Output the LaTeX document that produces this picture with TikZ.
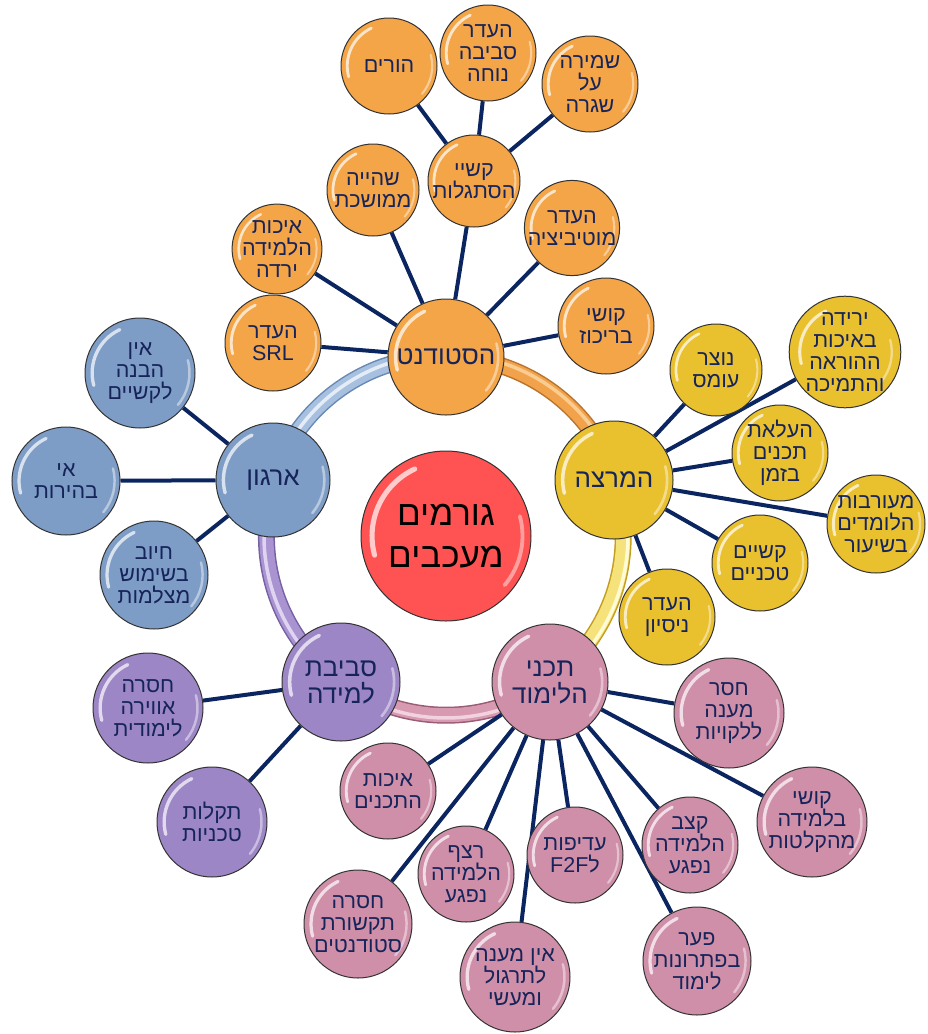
\documentclass[tikz,border=0pt]{standalone}
\usepackage{fontspec}
\setmainfont{Liberation Sans}[Script=Hebrew]
\TeXXeTstate=1
\newcommand\hb[1]{\beginR #1\endR}
\usetikzlibrary{calc}
\definecolor{cOr}{HTML}{F3A548}
\definecolor{cYe}{HTML}{E9C02E}
\definecolor{cBl}{HTML}{7E9DC6}
\definecolor{cPu}{HTML}{9C86C6}
\definecolor{cPk}{HTML}{D08FA8}
\definecolor{cRd}{HTML}{FF5252}
\definecolor{navy}{HTML}{16245A}
\definecolor{lnc}{HTML}{0B2560}
\definecolor{eOr}{HTML}{B8742C}
\definecolor{mOr}{HTML}{F2A24A}
\definecolor{hOr}{HTML}{F9CD92}
\definecolor{eYe}{HTML}{C49D1E}
\definecolor{mYe}{HTML}{F6E27A}
\definecolor{hYe}{HTML}{FFFBD6}
\definecolor{ePk}{HTML}{9A5C75}
\definecolor{mPk}{HTML}{D89AB1}
\definecolor{hPk}{HTML}{F2D2DE}
\definecolor{ePu}{HTML}{7561A3}
\definecolor{mPu}{HTML}{A994D1}
\definecolor{hPu}{HTML}{DED3F0}
\definecolor{eBl}{HTML}{6889B5}
\definecolor{mBl}{HTML}{A8C0DF}
\definecolor{hBl}{HTML}{E3ECF7}
\pgfdeclarelayer{bg}
\pgfsetlayers{bg,main}
\tikzset{
  bub/.style 2 args={circle, draw=black!80, line width=1pt, fill=#1,
    minimum size={2*#2pt}, inner sep=0pt, align=center, text=navy,
    font=\fontsize{21.5}{22}\selectfont,
    path picture={
      \draw[white, opacity=0.7, line width={0.06*#2pt}, line cap=round]
        ($(path picture bounding box.center)+(115:{0.87*#2pt})$)
        arc[start angle=115, end angle=195, radius={0.87*#2pt}];
      \draw[white, opacity=0.45, line width={0.045*#2pt}, line cap=round]
        ($(path picture bounding box.center)+(-40:{0.9*#2pt})$)
        arc[start angle=-40, end angle=15, radius={0.9*#2pt}];
    }},
  hubf/.style={font=\fontsize{26}{27}\selectfont},
  cenf/.style={font=\fontsize{35}{42}\selectfont, text=black},
  conn/.style={draw=lnc, line width=4pt},
}
\newcommand\ringarc[6]{%
  \draw[#4, line width=17pt] (#1.center) arc[start angle=#2, end angle=#3, radius=179];
  \draw[#5, line width=14pt] (#1.center) arc[start angle=#2, end angle=#3, radius=179];
  \draw[#6, line width=3.5pt] ($(cen.center)+(#2:182)$) arc[start angle=#2, end angle=#3, radius=182];
}
\begin{document}
\begin{tikzpicture}[x=1pt, y=1pt]
\useasboundingbox (0,0) rectangle (927,-1034);
% centre
\node[bub={cRd}{85}, cenf] (cen) at (446,-536) {\hb{גורמים}\\\hb{מעכבים}};
% student
\node[bub={cOr}{58}, hubf] (stud) at (446,-357) {\hb{הסטודנט}};
\node[bub={cOr}{48}] (srl) at (273,-343) {\hb{העדר}\\SRL};
\node[bub={cOr}{44}] (qual) at (277,-249) {\hb{איכות}\\\hb{הלמידה}\\\hb{ירדה}};
\node[bub={cOr}{46}] (stay) at (373,-190) {\hb{שהייה}\\\hb{ממושכת}};
\node[bub={cOr}{46}] (adapt) at (474,-181) {\hb{קשיי}\\\hb{הסתגלות}};
\node[bub={cOr}{47}] (motiv) at (572,-228) {\hb{העדר}\\\hb{מוטיביציה}};
\node[bub={cOr}{48}] (focus) at (606,-326) {\hb{קושי}\\\hb{בריכוז}};
\node[bub={cOr}{48}] (parents) at (389,-66) {\hb{הורים}};
\node[bub={cOr}{48}] (comfort) at (488,-53) {\hb{העדר}\\\hb{סביבה}\\\hb{נוחה}};
\node[bub={cOr}{48}] (routine) at (590,-84) {\hb{שמירה}\\\hb{על}\\\hb{שגרה}};
% lecturer
\node[bub={cYe}{59}, hubf] (lect) at (614,-480) {\hb{המרצה}};
\node[bub={cYe}{46}] (load) at (716,-370) {\hb{נוצר}\\\hb{עומס}};
\node[bub={cYe}{52}] (decl) at (845,-352) {\hb{ירידה}\\\hb{באיכות}\\\hb{ההוראה}\\\hb{והתמיכה}};
\node[bub={cYe}{48}] (upload) at (780,-453) {\hb{העלאת}\\\hb{תכנים}\\\hb{בזמן}};
\node[bub={cYe}{49}] (engage) at (876,-524) {\hb{מעורבות}\\\hb{הלומדים}\\\hb{בשיעור}};
\node[bub={cYe}{48}] (tech) at (760,-563) {\hb{קשיים}\\\hb{טכניים}};
\node[bub={cYe}{48}] (exper) at (667,-617) {\hb{העדר}\\\hb{ניסיון}};
% organisation
\node[bub={cBl}{57}, hubf] (org) at (273,-480) {\hb{ארגון}};
\node[bub={cBl}{55}] (underst) at (140,-373) {\hb{אין}\\\hb{הבנה}\\\hb{לקשיים}};
\node[bub={cBl}{54}] (clar) at (66,-481) {\hb{אי}\\\hb{בהירות}};
\node[bub={cBl}{54}] (camera) at (154,-575) {\hb{חיוב}\\\hb{בשימוש}\\\hb{מצלמות}};
% environment
\node[bub={cPu}{59}, hubf] (env) at (341,-682) {\hb{סביבת}\\\hb{למידה}};
\node[bub={cPu}{55}] (atmos) at (148,-708) {\hb{חסרה}\\\hb{אווירה}\\\hb{לימודית}};
\node[bub={cPu}{55}] (faults) at (212,-822) {\hb{תקלות}\\\hb{טכניות}};
% content
\node[bub={cPk}{58}, hubf] (cont) at (550,-682) {\hb{תכני}\\\hb{הלימוד}};
\node[bub={cPk}{48}] (cqual) at (388,-791) {\hb{איכות}\\\hb{התכנים}};
\node[bub={cPk}{54}] (comm) at (358,-924) {\hb{חסרה}\\\hb{תקשורת}\\\hb{סטודנטים}};
\node[bub={cPk}{48}] (seq) at (466,-874) {\hb{רצף}\\\hb{הלמידה}\\\hb{נפגע}};
\node[bub={cPk}{55}] (pract) at (515,-977) {\hb{אין מענה}\\\hb{לתרגול}\\\hb{ומעשי}};
\node[bub={cPk}{48}] (f2f) at (575,-855) {\hb{עדיפות}\\\hb{ל\beginL F2F\endL}};
\node[bub={cPk}{48}] (pace) at (690,-845) {\hb{קצב}\\\hb{הלמידה}\\\hb{נפגע}};
\node[bub={cPk}{54}] (gap) at (697,-961) {\hb{פער}\\\hb{בפתרונות}\\\hb{לימוד}};
\node[bub={cPk}{55}] (rec) at (812,-822) {\hb{קושי}\\\hb{בלמידה}\\\hb{מהקלטות}};
\node[bub={cPk}{55}] (disab) at (729,-713) {\hb{חסר}\\\hb{מענה}\\\hb{ללקויות}};
\begin{pgfonlayer}{bg}
  \ringarc{stud}{90}{18.43}{eOr}{mOr}{hOr}
  \ringarc{lect}{18.43}{-54.53}{eYe}{mYe}{hYe}
  \ringarc{cont}{-54.53}{-125.7}{ePk}{mPk}{hPk}
  \ringarc{env}{234.3}{162.06}{ePu}{mPu}{hPu}
  \ringarc{org}{162.06}{90}{eBl}{mBl}{hBl}
  \foreach \s in {srl,qual,stay,adapt,motiv,focus} \draw[conn] (stud) -- (\s);
  \foreach \s in {parents,comfort,routine} \draw[conn] (adapt) -- (\s);
  \foreach \s in {load,decl,upload,engage,tech,exper} \draw[conn] (lect) -- (\s);
  \foreach \s in {underst,clar,camera} \draw[conn] (org) -- (\s);
  \foreach \s in {atmos,faults} \draw[conn] (env) -- (\s);
  \foreach \s in {cqual,comm,seq,pract,f2f,pace,gap,rec,disab} \draw[conn] (cont) -- (\s);
\end{pgfonlayer}
\end{tikzpicture}
\end{document}
